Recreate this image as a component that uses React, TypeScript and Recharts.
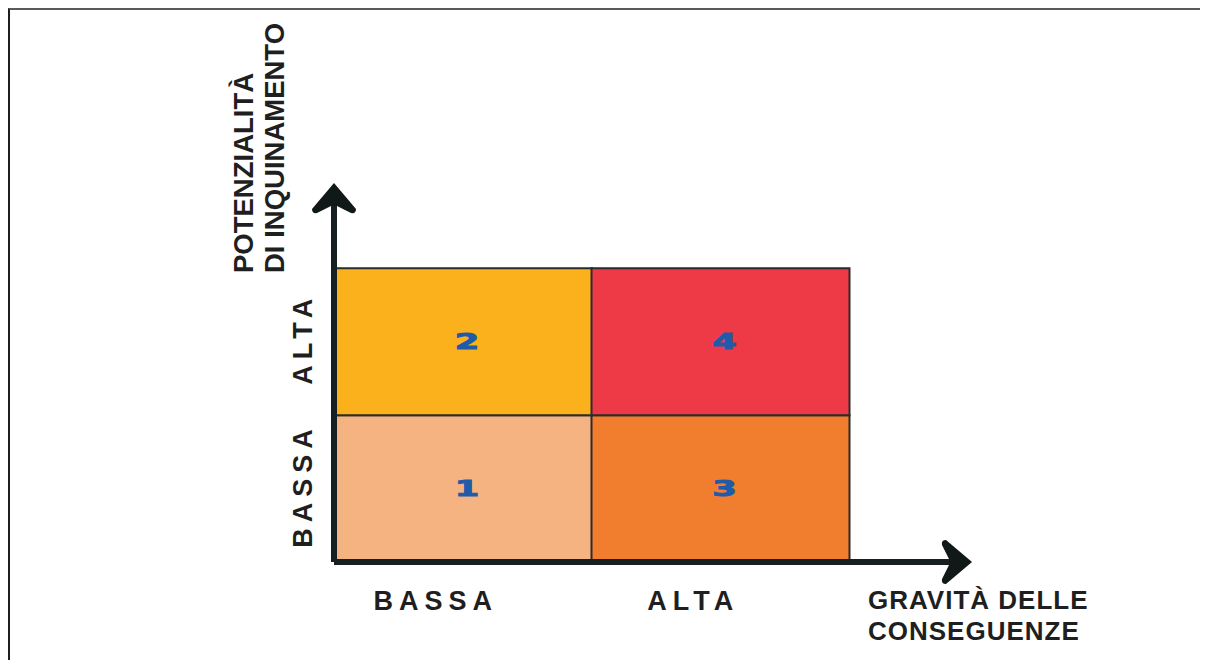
import React from "react";
import { BarChart, Bar, XAxis, YAxis, Cell, LabelList, Label } from "recharts";

// gravità delle conseguenze (x categories)
const gravita = ["BASSA", "ALTA"];
// potenzialità di inquinamento bands (stacked, one unit each)
const bandaBassa = [1, 1];
const bandaAlta = [1, 1];
// risk class shown in each cell
const rischioBassa = [1, 3];
const rischioAlta = [2, 4];
// y tick positions / labels
const yTicks = [0.5, 1.5];
const yTickLabels = ["BASSA", "ALTA"];

const RISK_COLORS: Record<number, string> = {
    1: "#F5B382",
    2: "#FBB11C",
    3: "#F17D2F",
    4: "#EE3A46",
};

const FONT = "'Liberation Sans', Arial, Helvetica, sans-serif";
const INK = "#1f1f1f";
const AXIS = "#172020";

const data = gravita.map((g, i) => ({
    gravita: g,
    bassa: bandaBassa[i],
    alta: bandaAlta[i],
    rBassa: rischioBassa[i],
    rAlta: rischioAlta[i],
}));

const TICK_SPACING = 6;
const TICK_SIZE = 27;

const XTick = ({ x, y, payload }: any) => (
    <text
        x={x - 30 + TICK_SPACING / 2}
        y={y + 48}
        textAnchor="middle"
        fontFamily={FONT}
        fontWeight={700}
        fontSize={TICK_SIZE}
        letterSpacing={TICK_SPACING}
        fill={INK}
    >
        {payload.value}
    </text>
);

const YTick = ({ x, y, payload }: any) => {
    const idx = yTicks.indexOf(payload.value);
    const tx = x - 22;
    const ty = y - TICK_SPACING / 2;
    return (
        <text
            x={tx}
            y={ty}
            transform={`rotate(-90 ${tx} ${ty})`}
            textAnchor="middle"
            fontFamily={FONT}
            fontWeight={700}
            fontSize={TICK_SIZE}
            letterSpacing={TICK_SPACING}
            fill={INK}
        >
            {yTickLabels[idx] ?? ""}
        </text>
    );
};

const YTitle = ({ viewBox }: any) => {
    const vx = viewBox?.x ?? 0;
    const vy = viewBox?.y ?? 179;
    const by = vy + 84;
    const lines = [
        { t: "POTENZIALITÀ", x: vx + 243 },
        { t: "DI INQUINAMENTO", x: vx + 274 },
    ];
    return (
        <g>
            {lines.map((l) => (
                <text
                    key={l.t}
                    x={l.x}
                    y={by}
                    transform={`rotate(-90 ${l.x} ${by})`}
                    textAnchor="start"
                    fontFamily={FONT}
                    fontWeight={700}
                    fontSize={27.5}
                    fill={INK}
                >
                    {l.t}
                </text>
            ))}
        </g>
    );
};

const XTitle = ({ viewBox }: any) => {
    const vx = viewBox?.x ?? 324;
    const vy = viewBox?.y ?? 552;
    return (
        <g fontFamily={FONT} fontWeight={700} fontSize={26} fill={INK} letterSpacing={1}>
            <text x={vx + 534} y={vy + 47}>GRAVITÀ DELLE</text>
            <text x={vx + 534} y={vy + 78}>CONSEGUENZE</text>
        </g>
    );
};

const RiskNumber = ({ x, y, width, height, value }: any) => {
    const cx = x + width / 2 + 4;
    const cy = y + height / 2;
    return (
        <text
            x={0}
            y={0}
            transform={`translate(${cx} ${cy}) scale(1.6 1)`}
            textAnchor="middle"
            dominantBaseline="central"
            fontFamily="'DejaVu Sans', sans-serif"
            fontWeight={700}
            fontSize={22}
            fill="#1F5BA8"
            stroke="#1F5BA8"
            strokeWidth={1}
        >
            {value}
        </text>
    );
};

export default function App() {
    return (
        <div
            style={{
                position: "relative",
                width: 1198,
                height: 650,
                borderLeft: "2px solid #1e1e1e",
                borderTop: "2px solid #5a5a5a",
                background: "#fff",
            }}
        >
            <style>{`body{margin:8px;overflow:hidden}`}</style>
            <svg width={0} height={0} style={{ position: "absolute" }}>
                <defs>
                    <marker
                        id="axisArrow"
                        markerUnits="userSpaceOnUse"
                        markerWidth={44}
                        markerHeight={50}
                        viewBox="-34 -25 44 50"
                        refX={-6}
                        refY={0}
                        orient="auto-start-reverse"
                        overflow="visible"
                    >
                        <path
                            d="M0,0 L-26,-22 Q-31,-22 -30,-17 L-23,-3 L-23,3 L-30,17 Q-31,22 -26,22 Z"
                            fill="#111818"
                        />
                    </marker>
                </defs>
            </svg>
            <BarChart
                width={1190}
                height={640}
                data={data}
                margin={{ top: 179, right: 234, left: 0, bottom: 0 }}
                barCategoryGap={0}
                barGap={0}
            >
                <XAxis
                    dataKey="gravita"
                    type="category"
                    height={88}
                    padding={{ left: 0, right: 117 }}
                    tickLine={false}
                    tickSize={0}
                    tickMargin={0}
                    tick={<XTick />}
                    axisLine={{ stroke: AXIS, strokeWidth: 6, markerEnd: "url(#axisArrow)" }}
                >
                    <Label content={<XTitle />} />
                </XAxis>
                <YAxis
                    type="number"
                    width={324}
                    domain={[0, 2.54]}
                    ticks={yTicks}
                    allowDataOverflow
                    tickLine={false}
                    tickSize={0}
                    tickMargin={0}
                    tick={<YTick />}
                    axisLine={{ stroke: AXIS, strokeWidth: 6, markerStart: "url(#axisArrow)" }}
                >
                    <Label content={<YTitle />} />
                </YAxis>
                <Bar dataKey="bassa" stackId="p" stroke="#2b2b2b" strokeWidth={2} isAnimationActive={false}>
                    {data.map((d, i) => (
                        <Cell key={`b-${i}`} fill={RISK_COLORS[d.rBassa]} />
                    ))}
                    <LabelList dataKey="rBassa" content={<RiskNumber />} />
                </Bar>
                <Bar dataKey="alta" stackId="p" stroke="#2b2b2b" strokeWidth={2} isAnimationActive={false}>
                    {data.map((d, i) => (
                        <Cell key={`a-${i}`} fill={RISK_COLORS[d.rAlta]} />
                    ))}
                    <LabelList dataKey="rAlta" content={<RiskNumber />} />
                </Bar>
            </BarChart>
        </div>
    );
}
